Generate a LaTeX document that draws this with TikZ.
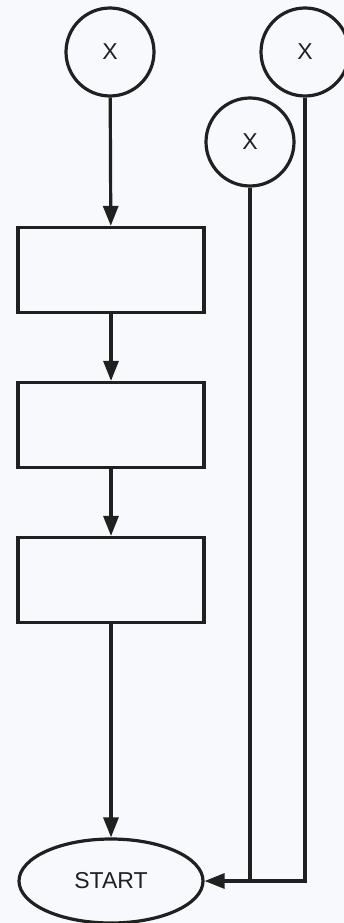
\documentclass[tikz,border=0pt]{standalone}
\usepackage{fontspec}
\setmainfont{Liberation Sans}
\usetikzlibrary{arrows.meta,shapes.geometric}
\definecolor{bg}{HTML}{F8F9FC}
\definecolor{ink}{HTML}{202020}
\begin{document}
\begin{tikzpicture}[x=1pt,y=-1pt,
  every node/.style={font=\fontsize{23}{26}\selectfont, text=ink},
  ln/.style={draw=ink, line width=3.2pt},
  circ/.style={ln, circle, minimum size=88pt, inner sep=0pt},
  boxn/.style={ln, rectangle, minimum width=186pt, minimum height=85pt, inner sep=0pt},
  ell/.style={ln, ellipse, minimum width=184pt, minimum height=84pt, inner sep=0pt},
  arr/.style={ln, -{Triangle[length=20pt,width=15pt]}}]
\fill[bg] (0,0) rectangle (344,923);
\useasboundingbox (0,0) rectangle (344,923);
\node[circ] (c1) at (110,52) {X};
\node[circ] (c2) at (305,52) {X};
\node[circ] (c3) at (250,142) {X};
\node[boxn] (b1) at (111,270) {};
\node[boxn] (b2) at (111,425) {};
\node[boxn] (b3) at (111,580) {};
\node[ell] (s) at (111,881) {START};
\coordinate (j) at (305,881);
\coordinate (k) at (250,881);
\draw[arr] (c1) -- (b1);
\draw[arr] (b1) -- (b2);
\draw[arr] (b2) -- (b3);
\draw[arr] (b3) -- (s);
\draw[ln] (c3) -- (k);
\draw[arr] (c2) -- (j) -- (s);
\end{tikzpicture}
\end{document}
